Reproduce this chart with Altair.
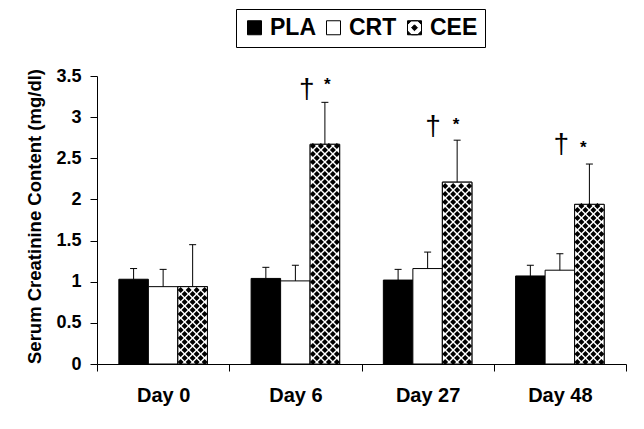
import altair as alt
import pandas as pd

# ---------------- data ----------------
days = ["Day 0", "Day 6", "Day 27", "Day 48"]
groups = ["PLA", "CRT", "CEE"]
pla_mean = [1.03, 1.04, 1.02, 1.07]
pla_err = [0.13, 0.135, 0.13, 0.13]
crt_mean = [0.94, 1.01, 1.16, 1.14]
crt_err = [0.21, 0.19, 0.20, 0.20]
cee_mean = [0.94, 2.67, 2.21, 1.94]
cee_err = [0.51, 0.51, 0.51, 0.49]
y_ticks = [0, 0.5, 1, 1.5, 2, 2.5, 3, 3.5]
y_title = "Serum Creatinine Content (mg/dl)"
ann_days = ["Day 6", "Day 27", "Day 48"]
dagger_y = [3.36, 2.90, 2.69]
star_y = [3.45, 2.96, 2.68]

# ---------------- style / layout ----------------
FONT = "Liberation Sans"
W, H = 529, 288
YMAX = 3.5
dagger_dx = {"Day 6": -18, "Day 27": -24, "Day 48": -28}
star_dx = {"Day 6": 2.5, "Day 27": -1, "Day 48": -6}

rows = []
for g, means, errs in zip(groups, [pla_mean, crt_mean, cee_mean], [pla_err, crt_err, cee_err]):
    for d, m, e in zip(days, means, errs):
        rows.append({"Day": d, "Group": g, "mean": m, "upper": m + e})
df = pd.DataFrame(rows)

# fill-pattern rows for the CEE bars (texture, derived from bar heights)
ppu = H / YMAX
pat = []
for d, m in zip(days, cee_mean):
    k = 0
    while k * 4 + 2 <= m * ppu - 1.5:
        pat.append({"Day": d, "Group": "CEE", "py": (k * 4 + 2) / ppu, "row": k % 2})
        k += 1
pat_df = pd.DataFrame(pat)

ann_df = pd.DataFrame({"Day": ann_days, "Group": ["CEE"] * len(ann_days),
                       "dy": dagger_y, "sy": star_y})


def diamonds(xs, h):
    return "".join(f"M{x},{-h}L{x + h},0L{x},{h}L{x - h},0Z" for x in xs)


row_a = diamonds([-12, -4, 4, 12], 3.0)
row_b = diamonds([-8, 0, 8], 3.0)
cee_symbol = ("M-1,-1H1V1H-1Z"
              "M-0.45,-1L-1,-0.45L-1,0.45L-0.45,1L0.45,1L1,0.45L1,-0.45L0.45,-1Z"
              "M0,-0.42L0.42,0L0,0.42L-0.42,0Z")

x_axis = alt.Axis(title=None, labelAngle=0, tickBand="extent", labelFontSize=20,
                  labelFontWeight="bold", labelFont=FONT, tickSize=7, labelPadding=14,
                  domainColor="black", tickColor="black", labelColor="black", grid=False)
xenc = alt.X("Day:N", sort=days, scale=alt.Scale(domain=days, paddingInner=0, paddingOuter=0),
             axis=x_axis)
xoff = alt.XOffset("Group:N", sort=groups,
                   scale=alt.Scale(domain=groups, paddingInner=0, paddingOuter=0.74))
y_axis = alt.Axis(values=y_ticks, format="~g", labelFontSize=18, labelFontWeight="bold",
                  labelFont=FONT, tickSize=7, labelPadding=9, domainColor="black",
                  tickColor="black", labelColor="black", grid=False,
                  titleFont=FONT, titleFontSize=18.5, titleFontWeight="bold", titleColor="black",
                  titleAngle=270, titleX=-63, titleY=140, titleAlign="center",
                  titleBaseline="middle")
yscale = alt.Scale(domain=[0, YMAX], nice=False, zero=True)

legend = alt.Legend(title=None, orient="none", legendX=139, legendY=-67,
                    direction="horizontal", symbolSize=196, labelFontSize=23,
                    labelFontWeight="bold", labelFont=FONT, labelColor="black",
                    labelOffset=4, columnPadding=6, padding=7, strokeColor="black",
                    symbolStrokeWidth=1, symbolOpacity=1)
color = alt.Color("Group:N", sort=groups,
                  scale=alt.Scale(domain=groups, range=["black", "white", "black"]),
                  legend=legend)
shape = alt.Shape("Group:N", sort=groups,
                  scale=alt.Scale(domain=groups, range=["square", "square", cee_symbol]),
                  legend=legend)

base = alt.Chart(df)

bars = base.mark_bar(stroke="black", strokeWidth=1).encode(
    x=xenc, xOffset=xoff,
    y=alt.Y("mean:Q", scale=yscale, axis=y_axis, title=y_title),
    color=color)

legend_shape = base.mark_point(filled=True, opacity=1, stroke="black", strokeWidth=1).encode(
    x=xenc, xOffset=xoff,
    y=alt.Y("mean:Q", scale=yscale, title=y_title),
    color=color, shape=shape).transform_filter("false")

cee_white = base.mark_bar(fill="white", stroke="black", strokeWidth=1).encode(
    x=xenc, xOffset=xoff,
    y=alt.Y("mean:Q", scale=yscale, title=y_title)).transform_filter(
    alt.datum.Group == "CEE")

pattern_layers = []
for r, path in [(0, row_a), (1, row_b)]:
    pattern_layers.append(
        alt.Chart(pat_df).mark_point(shape=path, size=4, filled=True, color="black",
                                     opacity=1, strokeWidth=0).encode(
            x=xenc, xOffset=xoff,
            y=alt.Y("py:Q", scale=yscale, title=y_title)).transform_filter(
            alt.datum.row == r))

err_rule = base.mark_rule(color="black", strokeWidth=1).encode(
    x=xenc, xOffset=xoff,
    y=alt.Y("mean:Q", scale=yscale, title=y_title), y2="upper:Q")

caps = base.mark_point(shape="stroke", size=49, stroke="black", strokeWidth=1,
                       opacity=1, filled=False).encode(
    x=xenc, xOffset=xoff,
    y=alt.Y("upper:Q", scale=yscale, title=y_title))

ann_layers = []
for d in ann_days:
    sub = alt.Chart(ann_df).transform_filter(alt.datum.Day == d)
    ann_layers.append(sub.mark_text(text="\u2020", font=FONT, fontSize=28, color="black",
                                    baseline="middle", align="center",
                                    dx=dagger_dx[d], dy=2).encode(
        x=xenc, xOffset=xoff, y=alt.Y("dy:Q", scale=yscale, title=y_title)))
    ann_layers.append(sub.mark_text(text="*", font=FONT, fontSize=17, fontWeight="bold",
                                    color="black", baseline="middle", align="center",
                                    dx=star_dx[d], dy=5).encode(
        x=xenc, xOffset=xoff, y=alt.Y("sy:Q", scale=yscale, title=y_title)))

chart = alt.layer(bars, legend_shape, cee_white, *pattern_layers, err_rule, caps,
                  *ann_layers).properties(
    width=W, height=H,
    autosize=alt.AutoSizeParams(type="none"),
    padding={"left": 97, "top": 76, "right": 18, "bottom": 65},
    background="white",
).configure_view(strokeWidth=0).configure_axis(grid=False)

chart.save("out.html", embed_options={"renderer": "svg", "actions": False})
